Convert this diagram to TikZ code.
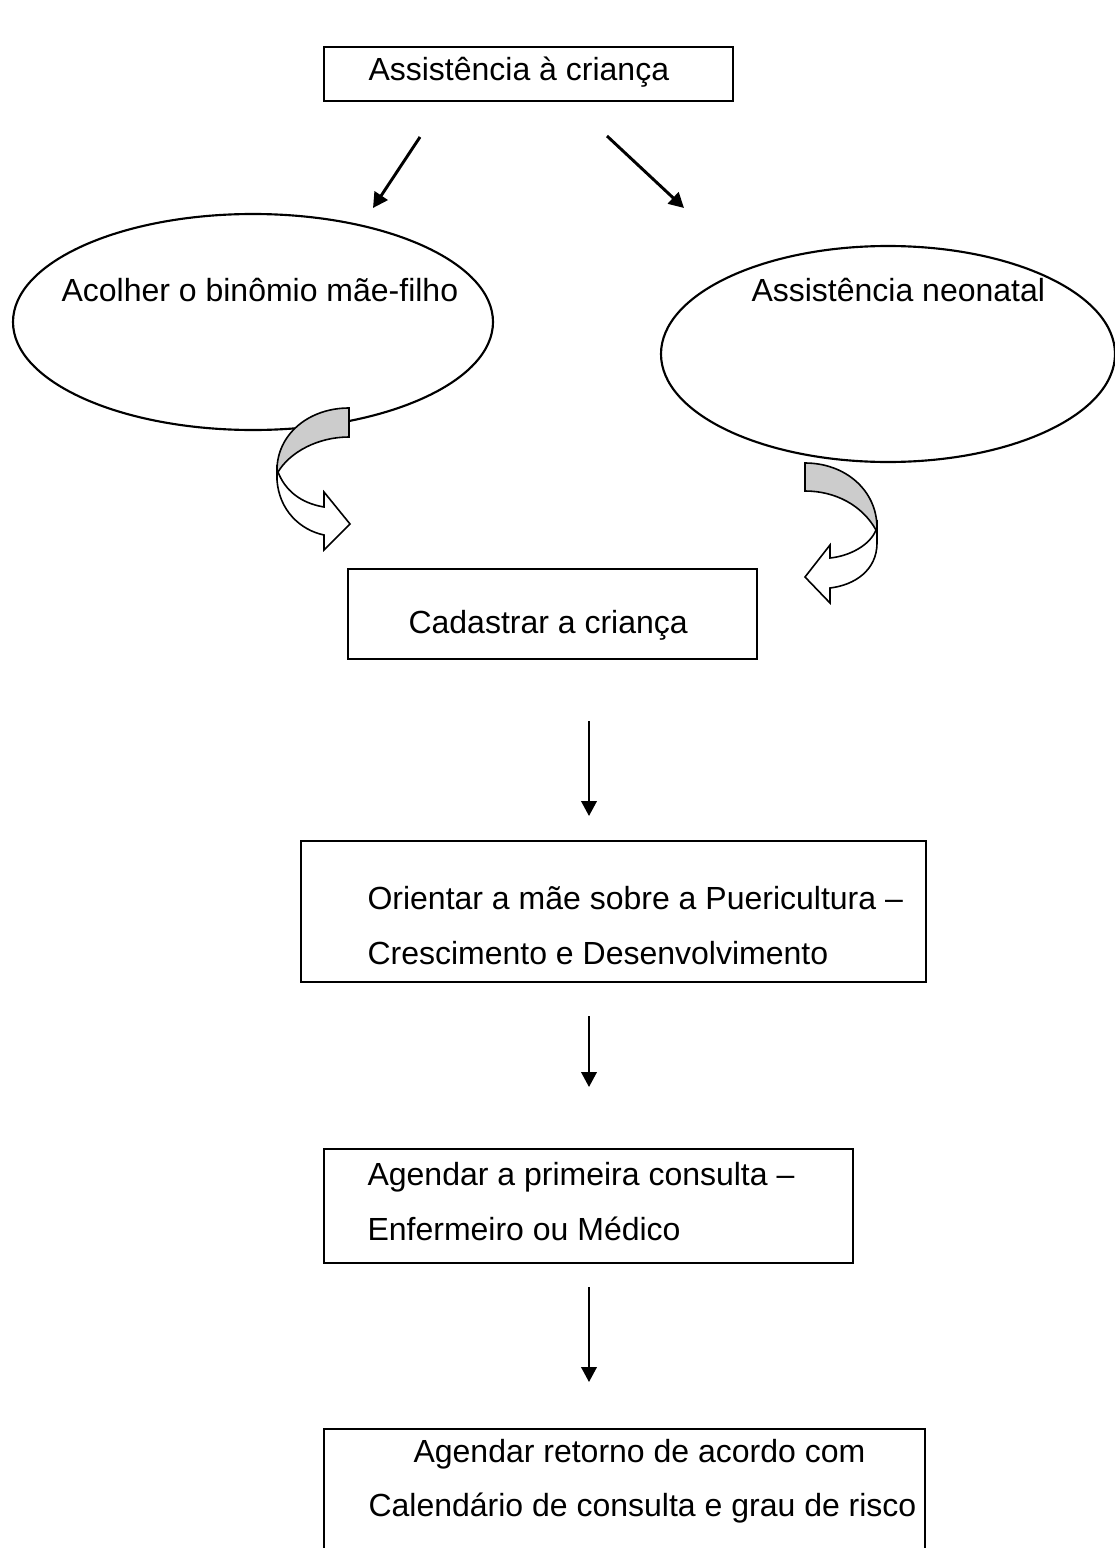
\documentclass[tikz,border=0pt]{standalone}
\usepackage{fontspec}
\setmainfont{Liberation Sans}
\definecolor{ribbongray}{RGB}{204,204,204}
\usepackage{tikz}
\usetikzlibrary{arrows.meta,shapes.geometric}

\tikzset{
  stepbox/.style={draw, line width=0.9pt, inner sep=0pt},
  oval/.style={ellipse, draw, line width=0.8pt, inner sep=0pt, minimum height=81pt},
  lbl/.style={anchor=base west, inner sep=0pt, font=\fontsize{12pt}{14pt}\selectfont},
  flow/.style={line width=0.8pt, -{Triangle[length=5.6pt,width=5.8pt]}},
  ribbon/.style={draw, line width=0.6pt, line join=miter}
}

\begin{document}
\begin{tikzpicture}[x=0.375pt, y=-0.375pt]
\useasboundingbox (0,0) rectangle (1115,1548);

\node[stepbox, minimum width=153.4pt, minimum height=20.25pt] (inicio) at (528.5,74) {};
\node[lbl] (inicio-t) at (368,81) {Assistência à criança};

\node[oval, minimum width=180pt] (acolher) at (253,322) {};
\node[lbl] (acolher-t) at (61,301) {Acolher o binômio mãe-filho};
\node[oval, minimum width=170.25pt] (neonatal) at (888,354) {};
\node[lbl] (neonatal-t) at (751,301) {Assistência neonatal};

\coordinate (ls) at (420,137); \coordinate (le) at (373,208);
\coordinate (rs) at (607,136); \coordinate (re) at (684,208);
\draw[flow, line width=1.1pt] (ls) -- (le);
\draw[flow, line width=1.1pt] (rs) -- (re);

% curved arrows into the register box
\draw[ribbon, fill=white] (277,465) -- (277,480) .. controls (279,510) and (300,530) .. (324,535)
  -- (324,550) -- (350,524) -- (324,492) -- (324,507)
  .. controls (300,503) and (285,490) .. (278,472) -- cycle;
\draw[ribbon, fill=ribbongray] (349,408) .. controls (308,408) and (277,435) .. (277,470)
  -- (278,472) .. controls (290,452) and (318,437) .. (349,437) -- cycle;

\draw[ribbon, fill=white] (877,520) -- (877,543) .. controls (877,570) and (855,585) .. (830,588)
  -- (830,603) -- (805,577) -- (830,545) -- (830,558)
  .. controls (850,556) and (870,545) .. (876,530) -- cycle;
\draw[ribbon, fill=ribbongray] (805,463) .. controls (845,463) and (877,490) .. (877,528)
  -- (876,530) .. controls (862,505) and (835,491) .. (805,491) -- cycle;

\node[stepbox, minimum width=153.4pt, minimum height=33.75pt] (cadastrar) at (552.5,614) {};
\node[lbl] (cadastrar-t) at (408,633) {Cadastrar a criança};

\node[stepbox, minimum width=234.4pt, minimum height=52.9pt] (orientar) at (613.5,911.5) {};
\node[lbl] (orientar-t1) at (367,909) {Orientar a mãe sobre a Puericultura –};
\node[lbl] (orientar-t2) at (367,964) {Crescimento e Desenvolvimento};

\node[stepbox, minimum width=198.4pt, minimum height=42.75pt] (agendar) at (588.5,1206) {};
\node[lbl] (agendar-t1) at (367,1185) {Agendar a primeira consulta –};
\node[lbl] (agendar-t2) at (367,1240) {Enfermeiro ou Médico};

\node[stepbox, minimum width=225.4pt, minimum height=52.9pt] (retorno) at (624.5,1499.5) {};
\node[lbl] (retorno-t1) at (413,1462) {Agendar retorno de acordo com};
\node[lbl] (retorno-t2) at (368,1516) {Calendário de consulta e grau de risco};

\coordinate (a1s) at (589,721);  \coordinate (a1e) at (589,816);
\coordinate (a2s) at (589,1016); \coordinate (a2e) at (589,1087);
\coordinate (a3s) at (589,1287); \coordinate (a3e) at (589,1382);
\draw[flow] (a1s) -- (a1e);
\draw[flow] (a2s) -- (a2e);
\draw[flow] (a3s) -- (a3e);
\end{tikzpicture}
\end{document}
